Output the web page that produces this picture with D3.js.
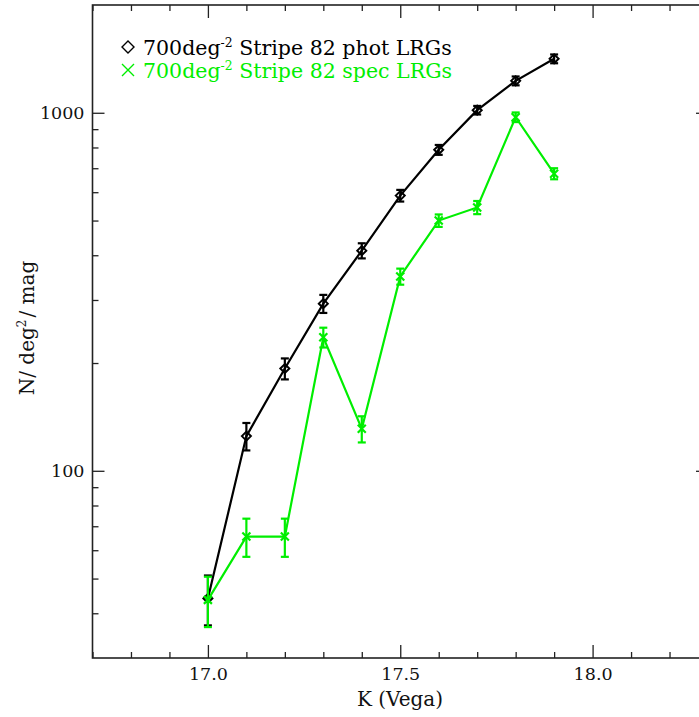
<!DOCTYPE html>
<html><head><meta charset="utf-8">
<script src="https://cdn.jsdelivr.net/npm/d3@7"></script>
<style>body{margin:0;background:#fff}svg{display:block}</style>
</head><body><svg id="c" width="699" height="717"></svg>
<script>
const kMag = [17.0,17.1,17.2,17.3,17.4,17.5,17.6,17.7,17.8,17.9];
const photN = [44,125,193,293,412,587,788,1017,1228,1415];
const photErr = [7,11,13,17,20,22,25,28,35,40];
const specN = [43.6,65.5,65.5,236,131,349,500,544,972,676];
const specErr = [7,8,8,15,11,18,20,23,30,24];
const xTicks = [17.0,17.5,18.0];
const yTicks = [100,1000];
const legendLabels = ["phot","spec"];

const FONT = "'DejaVu Serif', 'Liberation Serif', 'Times New Roman', serif";
const svg = d3.select("#c").attr("font-family",FONT);
const L=92.5, R=708, T=5, B=658;
const x = d3.scaleLinear().domain([16.7,18.3]).range([L,R]);
const y = d3.scaleLog().domain([30,2000]).range([B,T]);
const axisCol = "#222";

const g = svg.append("g");
const xMinor = d3.range(167,184).map(v=>v/10).filter(v=>!xTicks.some(t=>Math.abs(t-v)<1e-6));
g.append("g").attr("transform",`translate(0,${B})`)
  .call(d3.axisBottom(x).tickValues(xTicks).tickSize(-13).tickPadding(10).tickFormat(d3.format(".1f")))
  .call(a=>a.select(".domain").remove());
g.append("g").attr("transform",`translate(0,${B})`)
  .call(d3.axisBottom(x).tickValues(xMinor).tickSize(-6).tickFormat(""))
  .call(a=>a.select(".domain").remove());
g.append("g").attr("transform",`translate(0,${T})`)
  .call(d3.axisTop(x).tickValues(xTicks).tickSize(-13).tickFormat(""))
  .call(a=>a.select(".domain").remove());
g.append("g").attr("transform",`translate(0,${T})`)
  .call(d3.axisTop(x).tickValues(xMinor).tickSize(-6).tickFormat(""))
  .call(a=>a.select(".domain").remove());
const yMinor = [40,50,60,70,80,90,200,300,400,500,600,700,800,900];
g.append("g").attr("transform",`translate(${L},0)`)
  .call(d3.axisLeft(y).tickValues(yTicks).tickSize(-12).tickPadding(8).tickFormat(d3.format("d")))
  .call(a=>a.select(".domain").remove());
g.append("g").attr("transform",`translate(${L},0)`)
  .call(d3.axisLeft(y).tickValues(yMinor).tickSize(-6).tickFormat(""))
  .call(a=>a.select(".domain").remove());
g.append("g").attr("transform",`translate(${R},0)`)
  .call(d3.axisRight(y).tickValues(yTicks).tickSize(-12).tickFormat(""))
  .call(a=>a.select(".domain").remove());
g.append("g").attr("transform",`translate(${R},0)`)
  .call(d3.axisRight(y).tickValues(yMinor).tickSize(-6).tickFormat(""))
  .call(a=>a.select(".domain").remove());
g.selectAll("g").attr("font-family",FONT);
g.selectAll(".tick line").attr("stroke",axisCol).attr("stroke-width",1.3);
g.selectAll(".tick text").attr("font-size",17.5).attr("fill","#111");
svg.append("rect").attr("x",L).attr("y",T).attr("width",R-L).attr("height",B-T)
  .attr("fill","none").attr("stroke",axisCol).attr("stroke-width",1.6);

svg.append("text").attr("x",400).attr("y",706).attr("text-anchor","middle")
  .attr("font-size",20).attr("fill","#111").text("K (Vega)");
const yl = svg.append("text").attr("transform","translate(34,328) rotate(-90)")
  .attr("text-anchor","middle").attr("font-size",20).attr("fill","#111");
yl.append("tspan").text("N/ deg");
yl.append("tspan").attr("dy",-8).attr("font-size",12).text("2");
yl.append("tspan").attr("dy",8).attr("dx",2).text("/ mag");

function drawSeries(vals, errs, color, sym){
  const sg = svg.append("g");
  const line = d3.line().x((d,i)=>x(kMag[i])).y(d=>y(d));
  sg.append("path").datum(vals).attr("d",line).attr("fill","none")
    .attr("stroke",color).attr("stroke-width",2.2);
  vals.forEach((v,i)=>{
    const cx=x(kMag[i]), y1=y(v+errs[i]), y0=y(v-errs[i]);
    sg.append("line").attr("x1",cx).attr("x2",cx).attr("y1",y1).attr("y2",y0).attr("stroke",color).attr("stroke-width",2.2);
    [y1,y0].forEach(yy=>sg.append("line").attr("x1",cx-4).attr("x2",cx+4).attr("y1",yy).attr("y2",yy).attr("stroke",color).attr("stroke-width",2.2));
    const cy=y(v);
    if(sym==="d"){
      sg.append("path").attr("d",`M${cx-4.5},${cy}L${cx},${cy-4.5}L${cx+4.5},${cy}L${cx},${cy+4.5}Z`)
        .attr("fill","none").attr("stroke",color).attr("stroke-width",2);
    } else {
      sg.append("path").attr("d",`M${cx-4},${cy-4}L${cx+4},${cy+4}M${cx-4},${cy+4}L${cx+4},${cy-4}`)
        .attr("stroke",color).attr("stroke-width",2.2);
    }
  });
}
const green="#00ee00";
drawSeries(photN, photErr, "#000", "d");
drawSeries(specN, specErr, green, "x");

function legendRow(yb, color, sym, word){
  const sx=128, sy=yb-8;
  if(sym==="d"){
    svg.append("path").attr("d",`M${sx-6},${sy}L${sx},${sy-6}L${sx+6},${sy}L${sx},${sy+6}Z`)
      .attr("fill","none").attr("stroke",color).attr("stroke-width",1.4);
  } else {
    svg.append("path").attr("d",`M${sx-6},${sy-6}L${sx+6},${sy+6}M${sx-6},${sy+6}L${sx+6},${sy-6}`)
      .attr("stroke",color).attr("stroke-width",1.4);
  }
  const t = svg.append("text").attr("x",143).attr("y",yb).attr("font-size",19).attr("fill",color);
  t.append("tspan").text("700deg");
  t.append("tspan").attr("dy",-8).attr("font-size",11.5).text("-2");
  t.append("tspan").attr("dy",8).text(` Stripe 82 ${word} LRGs`);
  return t;
}
const t1 = legendRow(55,"#000","d",legendLabels[0]);
const t2 = legendRow(78,green,"x",legendLabels[1]);
// fit first row width to ~309px like the reference
const w = t1.node().getComputedTextLength();
const s = 309 / w;
[t1,t2].forEach(t=>{
  t.attr("font-size",19*s);
  t.selectAll("tspan").filter((d,i)=>i===1).attr("font-size",11.5*s);
});
</script></body></html>
